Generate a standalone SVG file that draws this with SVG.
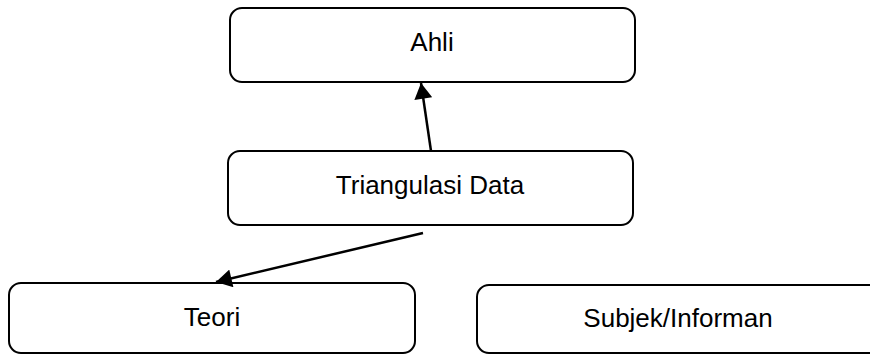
<svg xmlns="http://www.w3.org/2000/svg" width="870" height="356" viewBox="0 0 870 356">
<style>
.box{fill:#fff;stroke:#000;stroke-width:2}
.lbl{font-family:"Liberation Sans",Arial,sans-serif;font-size:26px;fill:#000;text-anchor:middle}
.con{stroke:#000;stroke-width:2.5;fill:none}
</style>
<defs>
<marker id="ah" markerUnits="userSpaceOnUse" markerWidth="18" markerHeight="18" viewBox="0 0 14 16" refX="14" refY="8" orient="auto">
<path d="M0,0 L14,8 L0,16 Z" fill="#000"/>
</marker>
</defs>
<rect width="870" height="356" fill="#fff"/>
<g id="ahli"><rect class="box" x="230" y="8" width="405" height="74" rx="12"/><text class="lbl" x="432" y="51">Ahli</text></g>
<g id="triangulasi"><rect class="box" x="228" y="151" width="405" height="74" rx="12"/><text class="lbl" x="430" y="194">Triangulasi Data</text></g>
<g id="teori"><rect class="box" x="9" y="283" width="406" height="70" rx="12"/><text class="lbl" x="212" y="326">Teori</text></g>
<g id="subjek"><rect class="box" x="477" y="285" width="420" height="68" rx="12"/><text class="lbl" x="678" y="327">Subjek/Informan</text></g>
<g id="connectors">
<line class="con" x1="431" y1="151" x2="421" y2="83" marker-end="url(#ah)"/>
<line class="con" x1="423" y1="233" x2="216" y2="282" marker-end="url(#ah)"/>
</g>
</svg>
